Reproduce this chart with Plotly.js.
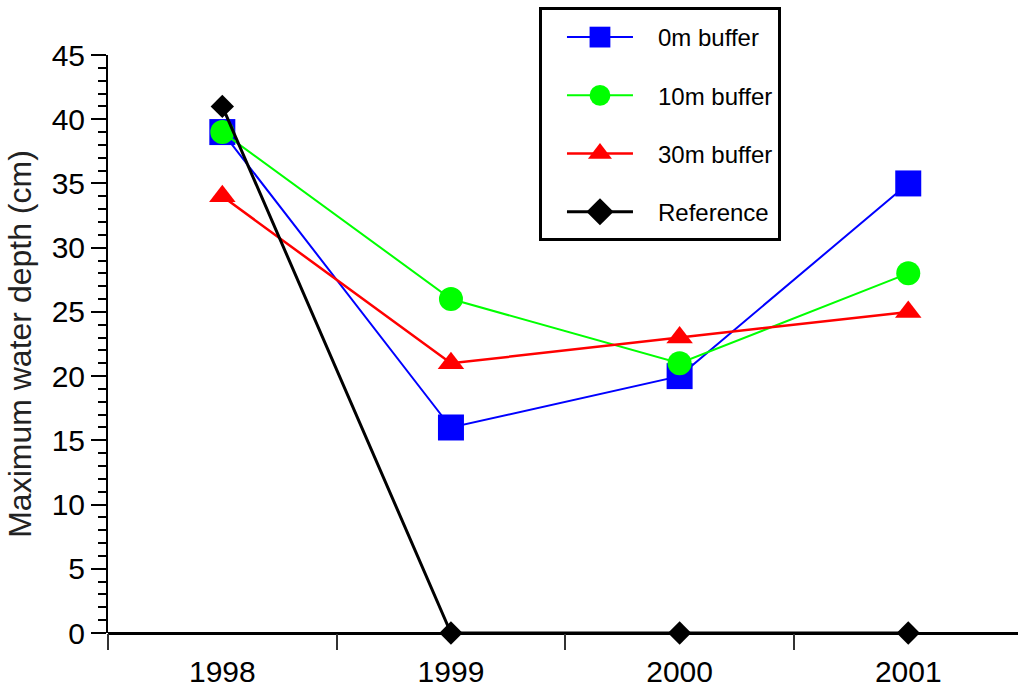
<!DOCTYPE html>
<html>
<head>
<meta charset="utf-8">
<script src="https://cdn.plot.ly/plotly-3.0.1.min.js"></script>
<style>
html,body{margin:0;padding:0;background:#fff;overflow:hidden;}
#chart{width:1018px;height:698px;}
</style>
</head>
<body>
<div id="chart"></div>
<script>
const years = ["1998", "1999", "2000", "2001"];
const buffer0m = [39, 16, 20, 35];
const buffer10m = [39, 26, 21, 28];
const buffer30m = [34, 21, 23, 25];
const reference = [41, 0, 0, 0];
const seriesNames = ["0m buffer", "10m buffer", "30m buffer", "Reference"];
const yTitle = "Maximum water depth (cm)";

const FONT = "Liberation Sans, Arial, sans-serif";

const traces = [
  {x: years, y: buffer0m, name: seriesNames[0], legendgroup: "a", mode: "lines+markers", cliponaxis: false,
   line: {color: "#0000ff", width: 2}, marker: {symbol: "square", size: 26, color: "#0000ff"}},
  {x: years, y: buffer10m, name: seriesNames[1], legendgroup: "b", mode: "lines+markers", cliponaxis: false,
   line: {color: "#00ff00", width: 2}, marker: {symbol: "circle", size: 24, color: "#00ff00"}},
  {x: years, y: buffer30m, name: seriesNames[2], legendgroup: "c", mode: "lines+markers", cliponaxis: false,
   line: {color: "#ff0000", width: 2.5}, marker: {symbol: "triangle-up", size: 23, color: "#ff0000"}},
  {x: years, y: reference, name: seriesNames[3], legendgroup: "d", mode: "lines+markers", cliponaxis: false,
   line: {color: "#000000", width: 3}, marker: {symbol: "diamond", size: 18, color: "#000000"}}
];

const layout = {
  width: 1018, height: 698,
  margin: {l: 108, r: 0, t: 55, b: 65, pad: 0},
  paper_bgcolor: "#ffffff", plot_bgcolor: "#ffffff",
  font: {family: FONT, color: "#000000", size: 30},
  showlegend: true,
  legend: {
    x: 0.4736, xanchor: "left", y: 1.0744, yanchor: "top",
    bgcolor: "#ffffff", bordercolor: "#000000", borderwidth: 3,
    font: {family: FONT, size: 24, color: "#000000"},
    traceorder: "grouped", tracegroupgap: 24, itemwidth: 106,
    itemsizing: "trace"
  },
  xaxis: {
    type: "category", range: [-0.5, 3.48],
    showgrid: false, zeroline: false,
    showline: false,
    ticks: "outside", tickson: "boundaries", ticklen: 16, tickwidth: 2, tickcolor: "#333333",
    ticklabelstandoff: 18,
    tickfont: {family: FONT, size: 30, color: "#000000"},
    fixedrange: true
  },
  yaxis: {
    range: [0, 45], dtick: 5, tick0: 0,
    showgrid: false, zeroline: true, zerolinecolor: "#000000", zerolinewidth: 3,
    showline: true, linecolor: "#000000", linewidth: 2,
    ticks: "outside", ticklen: 15, tickwidth: 2, tickcolor: "#000000",
    minor: {dtick: 1, ticks: "outside", ticklen: 8, tickwidth: 2, tickcolor: "#000000"},
    tickfont: {family: FONT, size: 30, color: "#000000"},
    title: {text: yTitle, font: {family: FONT, size: 32, color: "#222222"}, standoff: 10},
    fixedrange: true
  }
};

Plotly.newPlot("chart", traces, layout, {staticPlot: true}).then(function () {
  // shorten legend line segments and centre the symbols on them
  document.querySelectorAll(".legend .traces .legendlines path").forEach(function (p) {
    p.setAttribute("d", "M25,0h66");
  });
  document.querySelectorAll(".legend .traces .legendpoints path.scatterpts").forEach(function (p) {
    p.setAttribute("transform", "translate(58,0) scale(1.3)");
  });
  // extend the legend box a little above and below
  const bg = document.querySelector(".legend rect.bg");
  if (bg) {
    const y = parseFloat(bg.getAttribute("y")) || 0;
    const h = parseFloat(bg.getAttribute("height")) || 0;
    bg.setAttribute("y", y - 5);
    bg.setAttribute("height", h + 9);
  }
});
</script>
</body>
</html>
